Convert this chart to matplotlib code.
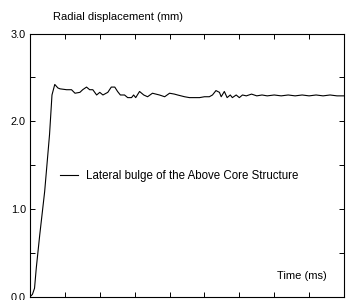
import matplotlib
matplotlib.use("Agg")
import matplotlib.pyplot as plt
from matplotlib.ticker import MultipleLocator, NullFormatter

plt.rcParams['font.family'] = ['Liberation Sans', 'DejaVu Sans']

# Time (arbitrary tick units, 9 intervals) and radial displacement (mm)
time = [0.0, 0.02, 0.07, 0.13, 0.18, 0.28, 0.42, 0.56, 0.63, 0.71, 0.80, 0.86,
        1.05, 1.19, 1.29, 1.43, 1.51, 1.62, 1.71, 1.80, 1.91, 2.00, 2.09, 2.23,
        2.33, 2.43, 2.51, 2.59, 2.71, 2.80, 2.91, 2.97, 3.03, 3.14, 3.26, 3.37,
        3.51, 3.71, 3.86, 4.00, 4.14, 4.23, 4.43, 4.57, 4.71, 4.86, 5.00, 5.14,
        5.23, 5.33, 5.43, 5.48, 5.57, 5.65, 5.74, 5.80, 5.91, 6.00, 6.09, 6.2,
        6.35, 6.5, 6.65, 6.8, 7.0, 7.2, 7.4, 7.6, 7.8, 8.0, 8.2, 8.4, 8.6, 8.8, 9.0]
displacement = [0.0, 0.01, 0.03, 0.10, 0.33, 0.71, 1.20, 1.85, 2.30, 2.42, 2.38, 2.37,
                2.36, 2.36, 2.32, 2.33, 2.36, 2.39, 2.36, 2.36, 2.30, 2.33, 2.30, 2.33,
                2.39, 2.39, 2.34, 2.30, 2.30, 2.27, 2.27, 2.30, 2.27, 2.34, 2.30, 2.28,
                2.32, 2.30, 2.28, 2.32, 2.31, 2.30, 2.28, 2.27, 2.27, 2.27, 2.28, 2.28,
                2.30, 2.35, 2.33, 2.28, 2.34, 2.27, 2.30, 2.27, 2.30, 2.27, 2.30, 2.29,
                2.31, 2.29, 2.30, 2.29, 2.30, 2.29, 2.30, 2.29, 2.30, 2.29, 2.30, 2.29, 2.30, 2.29, 2.29]
series_label = "Lateral bulge of the Above Core Structure"
y_label = "Radial displacement (mm)"
x_label = "Time (ms)"

fig = plt.figure(figsize=(3.46, 3.0), dpi=100)
ax = fig.add_axes([30/346, 3/300, 314/346, 263.5/300])
ax.plot(time, displacement, color='black', lw=0.8, label=series_label)

ax.set_xlim(0, 9)
ax.set_ylim(0, 3)
ax.xaxis.set_major_locator(MultipleLocator(1))
ax.xaxis.set_major_formatter(NullFormatter())
ax.yaxis.set_major_locator(MultipleLocator(1))
ax.yaxis.set_minor_locator(MultipleLocator(0.5))
ax.yaxis.set_major_formatter(matplotlib.ticker.FormatStrFormatter('%.1f'))
ax.tick_params(axis='both', which='both', direction='in', top=True, right=True,
               width=0.7, labelsize=7.8, pad=3)
ax.tick_params(axis='both', which='major', length=3.5)
ax.tick_params(axis='y', which='minor', length=3.5)
for s in ax.spines.values():
    s.set_linewidth(0.8)

fig.text(53/346, 1 - 17/300, y_label, fontsize=8.0, va='center', ha='left')
ax.text(0.945, 0.08, x_label, transform=ax.transAxes, fontsize=8.0, ha='right', va='center')

ax.legend(loc='center left', bbox_to_anchor=(0.0955, 0.459), frameon=False,
          fontsize=8.3, handlelength=1.56, handletextpad=0.7,
          borderpad=0, borderaxespad=0)

fig.savefig("out.png", dpi=100)
